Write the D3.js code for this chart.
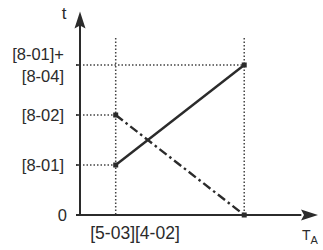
<!DOCTYPE html>
<html><head><meta charset="utf-8">
<script src="https://cdn.jsdelivr.net/npm/d3@7"></script>
<style>html,body{margin:0;padding:0;background:#fff;}svg{display:block;}</style>
</head><body>
<div id="chart"></div>
<script>
// Data
const xPoints = [15, 69];                 // positions of the two T_A marks (0..100)
const risingSeries = [1, 3];              // solid line values at xPoints
const fallingSeries = [2, 0];             // dash-dot line values at xPoints
const yTickValues = [0, 1, 2, 3];
const yTickLabels = [["0"], ["[8-01]"], ["[8-02]"], ["[8-01]+", "[8-04]"]];
const xLabelText = "[5-03][4-02]";
const yAxisLabel = "t";
const xAxisLabel = "T";
const xAxisSub = "A";

const W = 323, H = 250;
const svg = d3.select("#chart").append("svg").attr("width", W).attr("height", H);
const x = d3.scaleLinear().domain([0, 100]).range([80, 318]);
const y = d3.scaleLinear().domain([0, 3]).range([215, 65]);
const ink = "#2b2b2b";
const font = "'Liberation Sans', Arial, sans-serif";

// dotted guide lines
const guideTop = y(3.54);
xPoints.forEach(v => {
  svg.append("line").attr("x1", x(v)).attr("x2", x(v))
    .attr("y1", guideTop).attr("y2", y(0))
    .attr("stroke", "#444").attr("stroke-width", 1.5).attr("stroke-dasharray", "1.5,2");
});
[[risingSeries[0], xPoints[0]], [fallingSeries[0], xPoints[0]], [risingSeries[1], xPoints[1]]].forEach(([v, xv]) => {
  svg.append("line").attr("x1", x(0) - 4).attr("x2", x(xv))
    .attr("y1", y(v)).attr("y2", y(v))
    .attr("stroke", "#444").attr("stroke-width", 1.5).attr("stroke-dasharray", "1.5,2");
});

// axes
svg.append("line").attr("x1", x(0)).attr("x2", x(0)).attr("y1", y(0) + 1).attr("y2", y(3.8))
  .attr("stroke", ink).attr("stroke-width", 2);
svg.append("line").attr("x1", x(0) - 4).attr("x2", x(93)).attr("y1", y(0)).attr("y2", y(0))
  .attr("stroke", ink).attr("stroke-width", 2);
// tick marks
yTickValues.slice(1).forEach(v => {
  svg.append("line").attr("x1", x(0) - 4).attr("x2", x(0)).attr("y1", y(v)).attr("y2", y(v))
    .attr("stroke", ink).attr("stroke-width", 1.5);
});
// arrowheads
const ax = x(0), ay = y(4.07);
svg.append("path").attr("d", `M${ax},${ay} L${ax + 5.5},${ay + 17} L${ax},${ay + 14} L${ax - 5.5},${ay + 17} Z`).attr("fill", ink);
const bx = x(100), by = y(0);
svg.append("path").attr("d", `M${bx},${by} L${bx - 17},${by - 5.5} L${bx - 14},${by} L${bx - 17},${by + 5.5} Z`).attr("fill", ink);

// data lines
const line = d3.line().x(d => x(d[0])).y(d => y(d[1]));
svg.append("path").datum(xPoints.map((v, i) => [v, risingSeries[i]]))
  .attr("d", line).attr("fill", "none").attr("stroke", ink).attr("stroke-width", 2.4);
svg.append("path").datum(xPoints.map((v, i) => [v, fallingSeries[i]]))
  .attr("d", line).attr("fill", "none").attr("stroke", ink).attr("stroke-width", 2.4)
  .attr("stroke-dasharray", "9,3.5,2.5,3.5");
// endpoint markers
xPoints.forEach((v, i) => {
  [risingSeries[i], fallingSeries[i]].forEach(val => {
    svg.append("rect").attr("x", x(v) - 2.5).attr("y", y(val) - 2.5)
      .attr("width", 5).attr("height", 5).attr("fill", ink);
  });
});

// y tick labels
yTickValues.forEach((v, i) => {
  const lines = yTickLabels[i];
  const lh = 22;
  const t = svg.append("text").attr("text-anchor", "end")
    .attr("font-family", font).attr("font-size", 16.5).attr("fill", ink);
  lines.forEach((s, k) => {
    const off = (k - (lines.length - 1) / 2) * lh;
    t.append("tspan").attr("x", i === 0 ? 67 : 64).attr("y", y(v) + off + 6).text(s);
  });
});
// x label
svg.append("text").attr("x", 135).attr("y", 239).attr("text-anchor", "middle")
  .attr("font-family", font).attr("font-size", 17.5).attr("fill", ink).text(xLabelText);
// axis names
svg.append("text").attr("x", 64).attr("y", 19).attr("text-anchor", "middle")
  .attr("font-family", font).attr("font-size", 17).attr("fill", ink).text(yAxisLabel);
const ta = svg.append("text").attr("x", 302).attr("y", 240)
  .attr("font-family", font).attr("font-size", 14).attr("fill", ink);
ta.append("tspan").text(xAxisLabel);
ta.append("tspan").attr("dy", 4).attr("font-size", 11).text(xAxisSub);
</script>
</body></html>
